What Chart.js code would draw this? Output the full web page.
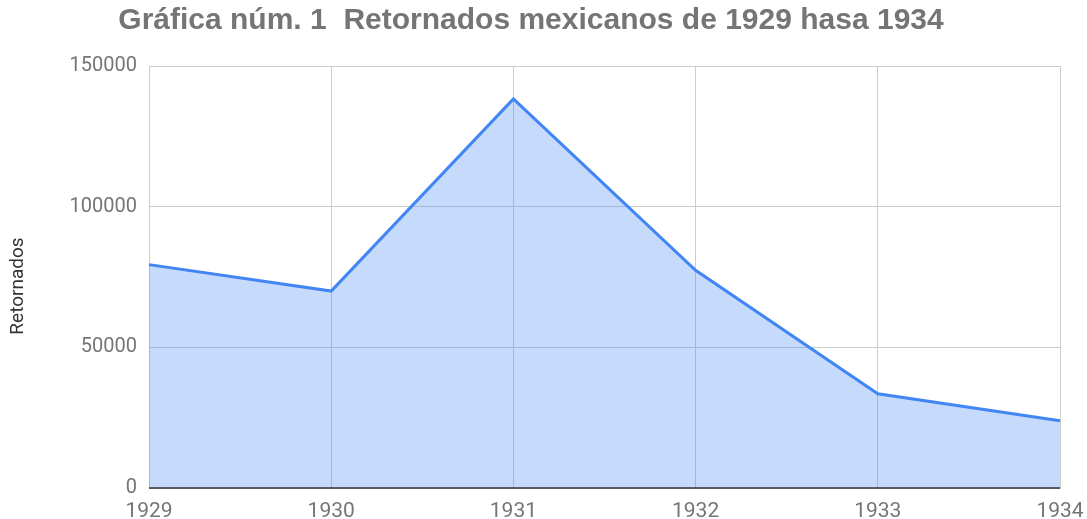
<!DOCTYPE html>
<html>
<head>
<meta charset="utf-8">
<script src="https://cdn.jsdelivr.net/npm/chart.js@4/dist/chart.umd.min.js"></script>
<style>
  html, body { margin: 0; padding: 0; background: #fff; }
  #wrap { width: 1087px; height: 519px; position: relative; }
</style>
</head>
<body>
<div id="wrap"><canvas id="retornadosChart"></canvas></div>
<script>
// Retornados mexicanos, 1929-1934
const years = ['1929', '1930', '1931', '1932', '1933', '1934'];
const retornados = [79400, 70000, 138300, 77400, 33500, 23900];
const yTicks = [0, 50000, 100000, 150000];

const titleText = 'Gráfica núm. 1  Retornados mexicanos de 1929 hasa 1934';
const axisTitle = 'Retornados';

const gridColor = '#cccccc';
const tickColor = '#757575';

// dark baseline at zero, drawn on top of the fill
const baselinePlugin = {
    id: 'baseline',
    afterDatasetsDraw(chart) {
        const { ctx, chartArea, scales } = chart;
        const y = scales.y.getPixelForValue(0);
        ctx.save();
        ctx.strokeStyle = '#333333';
        ctx.lineWidth = 1.5;
        ctx.beginPath();
        ctx.moveTo(chartArea.left, y);
        ctx.lineTo(chartArea.right, y);
        ctx.stroke();
        ctx.restore();
    }
};

// title and y-axis caption, placed like the original (slightly off-centre)
const textPlugin = {
    id: 'captions',
    afterDraw(chart) {
        const { ctx, chartArea } = chart;
        ctx.save();
        ctx.fillStyle = '#757575';
        ctx.font = 'bold 30px "Liberation Sans"';
        ctx.textAlign = 'center';
        ctx.textBaseline = 'middle';
        ctx.fillText(titleText, 531, 21);

        ctx.translate(18, (chartArea.top + chartArea.bottom) / 2 + 9);
        ctx.rotate(-Math.PI / 2);
        ctx.fillStyle = '#333333';
        ctx.font = '19px Roboto';
        ctx.fillText(axisTitle, 0, 0);
        ctx.restore();
    }
};

new Chart(document.getElementById('retornadosChart'), {
    type: 'line',
    data: {
        labels: years,
        datasets: [{
            label: axisTitle,
            data: retornados,
            borderColor: '#4285f4',
            backgroundColor: 'rgba(66, 133, 244, 0.3)',
            borderWidth: 3,
            pointRadius: 0,
            tension: 0,
            fill: 'origin'
        }]
    },
    options: {
        responsive: true,
        maintainAspectRatio: false,
        animation: false,
        layout: { padding: { left: 0, right: 0, top: 66, bottom: 0 } },
        plugins: {
            legend: { display: false },
            tooltip: { enabled: false },
            title: { display: false }
        },
        scales: {
            x: {
                offset: false,
                grid: { color: gridColor, drawTicks: false },
                border: { color: gridColor },
                ticks: {
                    color: tickColor,
                    font: { family: 'Roboto', size: 21 },
                    padding: 11,
                    maxRotation: 0,
                    autoSkip: false
                },
                afterFit(scale) {
                    scale.height = 31;
                    scale.paddingRight = 27;
                }
            },
            y: {
                min: 0,
                max: 150000,
                afterBuildTicks(scale) { scale.ticks = yTicks.map(v => ({ value: v })); },
                grid: { color: gridColor, drawTicks: false },
                border: { color: gridColor },
                ticks: {
                    color: tickColor,
                    font: { family: 'Roboto', size: 20 },
                    padding: 12,
                    callback: v => String(v)
                },
                afterFit(scale) { scale.width = 149; }
            }
        }
    },
    plugins: [baselinePlugin, textPlugin]
});
</script>
</body>
</html>
